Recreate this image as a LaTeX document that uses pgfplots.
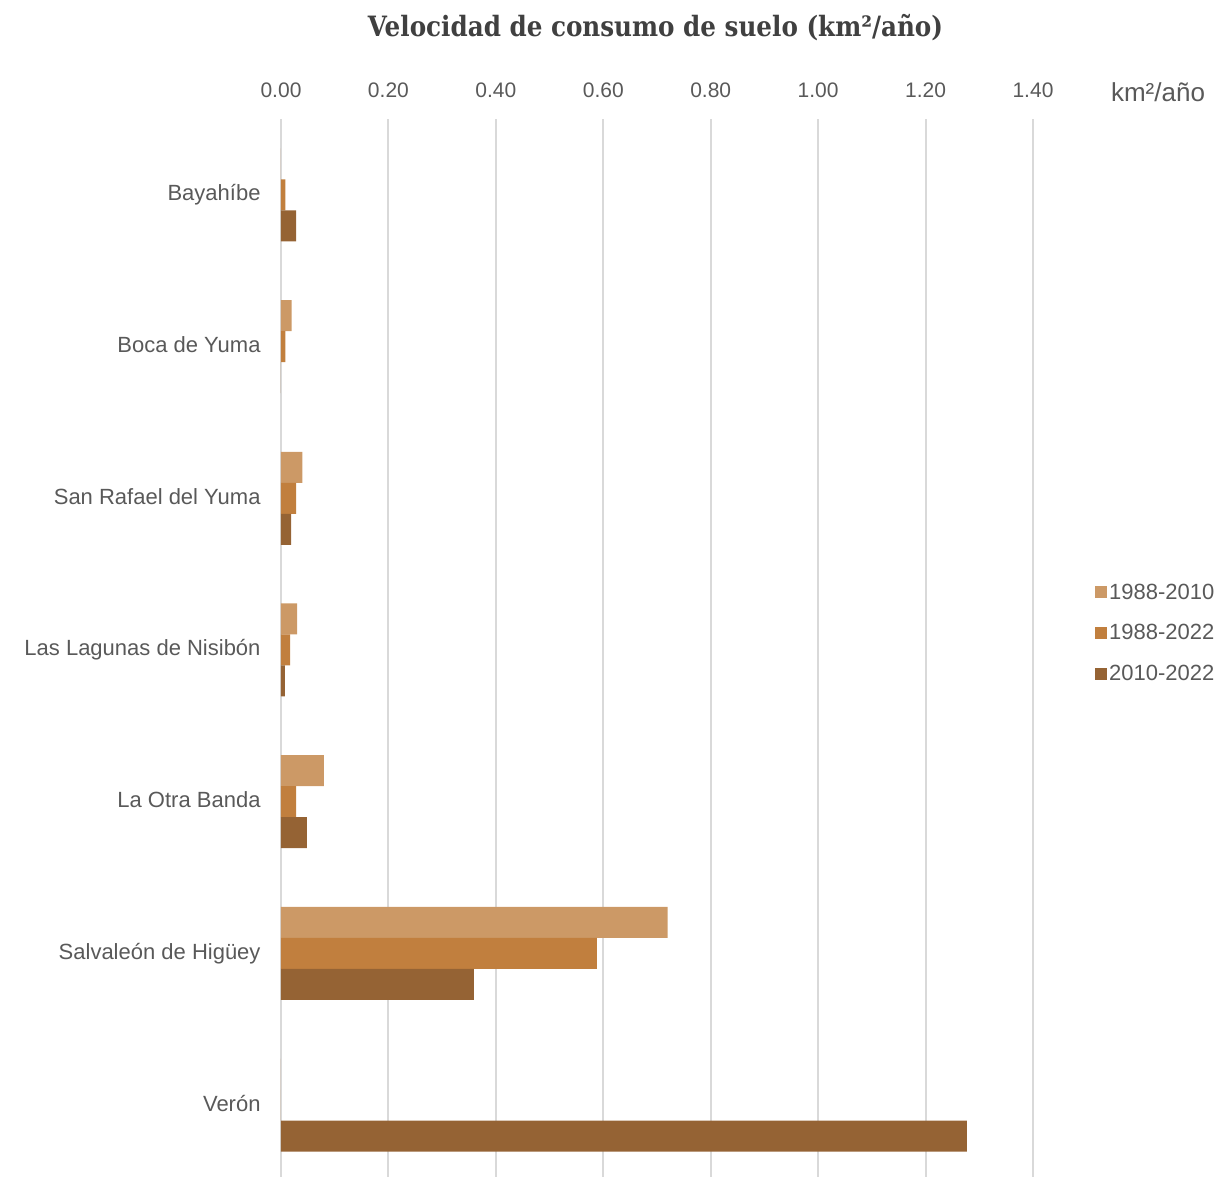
\documentclass[border=0pt]{standalone}
\usepackage{pgfplots}
\pgfplotsset{compat=1.18}
\usepackage{fontspec}
\setmainfont{Liberation Sans}
\newfontfamily\titlefont[FakeStretch=0.88]{DejaVu Serif}
\definecolor{cA}{HTML}{CC9966}
\definecolor{cB}{HTML}{C17F3E}
\definecolor{cC}{HTML}{956334}
\definecolor{txt}{HTML}{595959}
\definecolor{ttl}{HTML}{404040}
\definecolor{gridc}{HTML}{D9D9D9}
\begin{document}
\begin{tikzpicture}
\useasboundingbox (0pt,0pt) rectangle (1218pt,-1176pt);
\begin{axis}[
  at={(281pt,-119pt)}, anchor=north west,
  scale only axis, width=752pt, height=1062pt,
  xbar, bar width=31pt,
  xmin=0, xmax=1.4, ymin=-0.5, ymax=6.5,
  xtick={0,0.2,0.4,0.6,0.8,1.0,1.2,1.4},
  xticklabel pos=upper,
  xticklabel style={anchor=base, yshift=22pt, text=txt, font=\fontsize{21}{25}\selectfont,
    /pgf/number format/.cd, fixed, fixed zerofill, precision=2, assume math mode=true},
  ytick={0,1,2,3,4,5,6},
  yticklabels={Verón, Salvaleón de Higüey, La Otra Banda, Las Lagunas de Nisibón, San Rafael del Yuma, Boca de Yuma, Bayahíbe},
  yticklabel style={anchor=base east, inner sep=0pt, xshift=-16pt, yshift=-6pt, text=txt, font=\fontsize{22}{26}\selectfont},
  axis line style={draw=none}, major tick style={draw=none},
  xmajorgrids, grid style={draw=gridc, line width=2pt},
  legend style={at={(1.0824,0.516)}, anchor=west, draw=none, fill=none,
    font=\fontsize{22}{26}\selectfont, text=txt, row sep=20pt, inner sep=0pt,
    /tikz/every even column/.append style={column sep=0pt}},
  legend image code/.code={\fill (0pt,-6pt) rectangle (12pt,6pt);},
  legend cell align=left,
]
\addplot[draw=none, fill=cA, bar shift=31pt] coordinates {
 (0,6) (0.02,5) (0.04,4) (0.03,3) (0.08,2) (0.72,1) (0,0)};
\addplot[draw=none, fill=cB, bar shift=0pt] coordinates {
 (0.008,6) (0.008,5) (0.028,4) (0.017,3) (0.028,2) (0.588,1) (0,0)};
\addplot[draw=none, fill=cC, bar shift=-31pt] coordinates {
 (0.028,6) (0,5) (0.019,4) (0.007,3) (0.048,2) (0.359,1) (1.277,0)};
\legend{1988-2010,1988-2022,2010-2022}
\end{axis}
\node[text=ttl, font=\titlefont\bfseries\fontsize{28}{33}\selectfont] at (655.5pt,-28pt) {Velocidad de consumo de suelo (km²/año)};
\node[text=txt, font=\fontsize{26}{30}\selectfont, anchor=base] at (1158pt,-101.5pt) {km²/año};
\end{tikzpicture}
\end{document}
